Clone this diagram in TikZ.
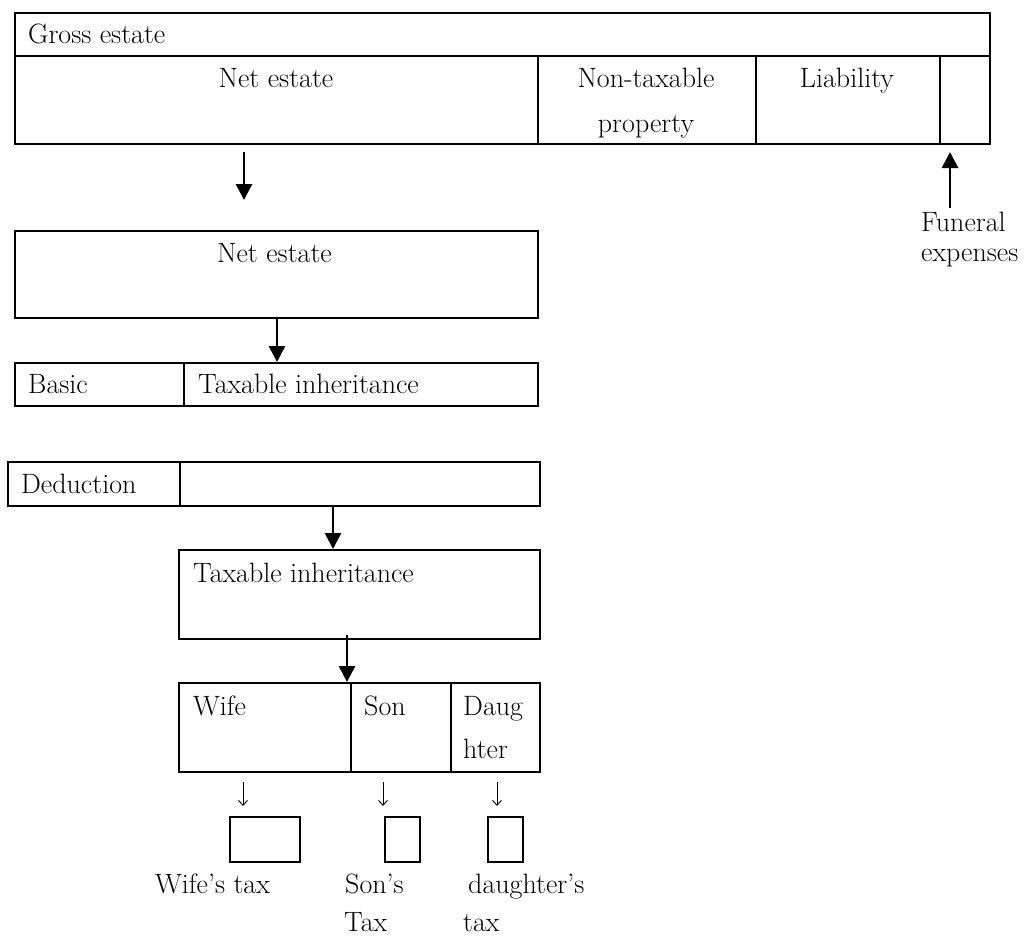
\documentclass[tikz,border=0pt]{standalone}
\usetikzlibrary{arrows.meta}
\begin{document}
\begin{tikzpicture}[x=1pt,y=-1pt,
  box/.style={draw, line width=1.5pt, inner sep=0pt, anchor=north west},
  lbl/.style={inner sep=0pt, anchor=base west, font=\fontsize{28}{33}\selectfont},
  clbl/.style={lbl, anchor=base},
  bigarrow/.style={line width=2.8pt, -{Triangle[width=16pt,length=16pt]}},
  smallarrow/.style={line width=0.9pt, -{Straight Barb[width=9pt,length=5pt]}}]
\useasboundingbox (0,0) rectangle (1028,937);
% top block
\node[box, minimum width=975pt, minimum height=43pt] (gross) at (14,12) {};
\node[box, minimum width=523pt, minimum height=88pt] (net1) at (14,55) {};
\node[box, minimum width=218pt, minimum height=88pt] (nontax) at (537,55) {};
\node[box, minimum width=184pt, minimum height=88pt] (liab) at (755,55) {};
\node[box, minimum width=50pt, minimum height=88pt] (fun) at (939,55) {};
\node[lbl] (tgross) at (28,43) {Gross estate};
\node[clbl] (tnet1) at (276,87) {Net estate};
\node[clbl] (tnontax1) at (646,87) {Non-taxable};
\node[clbl] (tnontax2) at (646,132) {property};
\node[clbl] (tliab) at (847,87) {Liability};
% funeral
\coordinate (fs) at (950,208);
\coordinate (fe) at (950,152);
\draw[bigarrow] (fs) -- (fe);
\node[lbl] (tfun1) at (921,231) {Funeral};
\node[lbl] (tfun2) at (921,261) {expenses};
% arrow 1
\coordinate (a1s) at (244,152);
\coordinate (a1e) at (244,200);
\draw[bigarrow] (a1s) -- (a1e);
% net estate 2
\node[box, minimum width=523pt, minimum height=87pt] (net2) at (14,230) {};
\node[lbl] (tnet2) at (217,262) {Net estate};
% basic row
\node[box, minimum width=169pt, minimum height=43pt] (basic) at (14,362) {};
\node[box, minimum width=354pt, minimum height=43pt] (taxinh1) at (183,362) {};
\node[lbl] (tbasic) at (28,393) {Basic};
\node[lbl] (ttaxinh1) at (198,393) {Taxable inheritance};
\coordinate (a2x) at (277,0);
\draw[bigarrow] (net2.south -| a2x) -- (taxinh1.north -| a2x);
% deduction row
\node[box, minimum width=172pt, minimum height=44pt] (ded) at (7,461) {};
\node[box, minimum width=360pt, minimum height=44pt] (dedr) at (179,461) {};
\node[lbl] (tded) at (21,493) {Deduction};
% taxable inheritance box
\node[box, minimum width=361pt, minimum height=89pt] (tax2) at (178,549) {};
\node[lbl] (ttax2) at (193,582) {Taxable inheritance};
\coordinate (a3x) at (333,0);
\draw[bigarrow] (dedr.south -| a3x) -- (tax2.north -| a3x);
% heirs row
\node[box, minimum width=172pt, minimum height=89pt] (wife) at (178,682) {};
\node[box, minimum width=100pt, minimum height=89pt] (son) at (350,682) {};
\node[box, minimum width=89pt, minimum height=89pt] (daug) at (450,682) {};
\node[lbl] (twife) at (193,715) {Wife};
\node[lbl] (tson) at (364,715) {Son};
\node[lbl] (tdaug1) at (463,715) {Daug};
\node[lbl] (tdaug2) at (463,758) {hter};
\coordinate (a4x) at (347,0);
\draw[bigarrow] ([yshift=5pt]tax2.south -| a4x) -- (wife.north -| a4x);
% small arrows
\coordinate (s1s) at (243,782); \coordinate (s1e) at (243,806);
\coordinate (s2s) at (383,782); \coordinate (s2e) at (383,806);
\coordinate (s3s) at (497,782); \coordinate (s3e) at (497,806);
\draw[smallarrow] (s1s) -- (s1e);
\draw[smallarrow] (s2s) -- (s2e);
\draw[smallarrow] (s3s) -- (s3e);
% tax boxes
\node[box, minimum width=70pt, minimum height=45pt] (wbox) at (229,816) {};
\node[box, minimum width=35pt, minimum height=45pt] (sbox) at (384,816) {};
\node[box, minimum width=35pt, minimum height=45pt] (dbox) at (487,816) {};
\node[lbl] (twtax) at (155,893) {Wife's tax};
\node[lbl] (tstax1) at (345,893) {Son's};
\node[lbl] (tstax2) at (344,931) {Tax};
\node[lbl] (tdtax1) at (468,893) {daughter's};
\node[lbl] (tdtax2) at (463,931) {tax};
\end{tikzpicture}
\end{document}
